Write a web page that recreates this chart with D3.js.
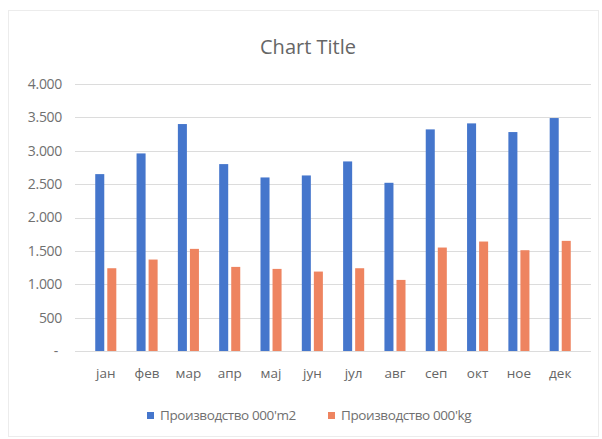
<!DOCTYPE html>
<html>
<head>
<meta charset="utf-8">
<script src="https://cdn.jsdelivr.net/npm/d3@7"></script>
<style>
  body { margin: 0; background: #fff; }
  text { font-family: "Open Sans", "Noto Sans", sans-serif; }
</style>
</head>
<body>
<script>
const months = ["јан", "фев", "мар", "апр", "мај", "јун", "јул", "авг", "сеп", "окт", "ное", "дек"];
const seriesNames = ["Производство 000'm2", "Производство 000'kg"];
const m2Values = [2650, 2960, 3400, 2800, 2600, 2630, 2840, 2520, 3320, 3410, 3280, 3490];
const kgValues = [1240, 1370, 1530, 1260, 1230, 1190, 1240, 1065, 1550, 1640, 1510, 1650];
const yTicks = [0, 500, 1000, 1500, 2000, 2500, 3000, 3500, 4000];
const colors = ["#4576cc", "#ee8460"];

const width = 602, height = 439;
const plotLeft = 75, plotRight = 591, plotTop = 84, plotBottom = 351;

const svg = d3.select("body").append("svg")
  .attr("width", width)
  .attr("height", height);

// faint chart frame like the scanned original
svg.append("rect")
  .attr("x", 8.5).attr("y", 10.5)
  .attr("width", 590).attr("height", 426)
  .attr("fill", "none")
  .attr("stroke", "#ececec");

const x0 = d3.scaleBand().domain(months).range([plotLeft, plotRight]).padding(0.49);
const x1 = d3.scaleBand().domain([0, 1]).range([0, x0.bandwidth()]).paddingInner(0.25);
const y = d3.scaleLinear().domain([0, 4000]).range([plotBottom, plotTop]);

const locale = d3.formatLocale({ decimal: ",", thousands: ".", grouping: [3], currency: ["", ""] });
const fmt = locale.format(",d");

// gridlines
svg.append("g")
  .selectAll("line")
  .data(yTicks)
  .enter()
  .append("line")
  .attr("x1", plotLeft)
  .attr("x2", plotRight)
  .attr("y1", d => Math.round(y(d)) + 0.5)
  .attr("y2", d => Math.round(y(d)) + 0.5)
  .attr("stroke", "#dcdcdc");

// y labels
svg.append("g")
  .selectAll("text")
  .data(yTicks)
  .enter()
  .append("text")
  .attr("x", d => d === 0 ? 58 : 62)
  .attr("y", d => y(d))
  .attr("dy", "0.35em")
  .attr("text-anchor", "end")
  .attr("font-size", 14)
  .attr("letter-spacing", -0.3)
  .attr("fill", "#707070")
  .text(d => d === 0 ? "-" : fmt(d));

// bars
const rows = months.map((m, i) => ({ month: m, values: [m2Values[i], kgValues[i]] }));
const groups = svg.append("g")
  .selectAll("g")
  .data(rows)
  .enter()
  .append("g")
  .attr("transform", d => `translate(${x0(d.month)},0)`);

groups.selectAll("rect")
  .data(d => d.values.map((v, k) => ({ k, v })))
  .enter()
  .append("rect")
  .attr("x", d => x1(d.k))
  .attr("width", x1.bandwidth())
  .attr("y", d => y(d.v))
  .attr("height", d => y(0) - y(d.v))
  .attr("fill", d => colors[d.k]);

// x labels
svg.append("g")
  .selectAll("text")
  .data(months)
  .enter()
  .append("text")
  .attr("x", d => x0(d) + x0.bandwidth() / 2)
  .attr("y", 378)
  .attr("text-anchor", "middle")
  .attr("font-size", 13.5)
  .attr("fill", "#666")
  .text(d => d);

// title
svg.append("text")
  .attr("x", 308)
  .attr("y", 54)
  .attr("text-anchor", "middle")
  .attr("font-size", 20)
  .attr("fill", "#666")
  .text("Chart Title");

// legend
const legendX = [147, 328];
const legend = svg.append("g")
  .selectAll("g")
  .data(seriesNames)
  .enter()
  .append("g")
  .attr("transform", (d, i) => `translate(${legendX[i]},412)`);

legend.append("rect")
  .attr("width", 7)
  .attr("height", 7)
  .attr("fill", (d, i) => colors[i]);

legend.append("text")
  .attr("x", 13)
  .attr("y", 3.5)
  .attr("dy", "0.35em")
  .attr("font-size", 13.5)
  .attr("letter-spacing", -0.4)
  .attr("fill", "#707070")
  .text(d => d);
</script>
</body>
</html>
